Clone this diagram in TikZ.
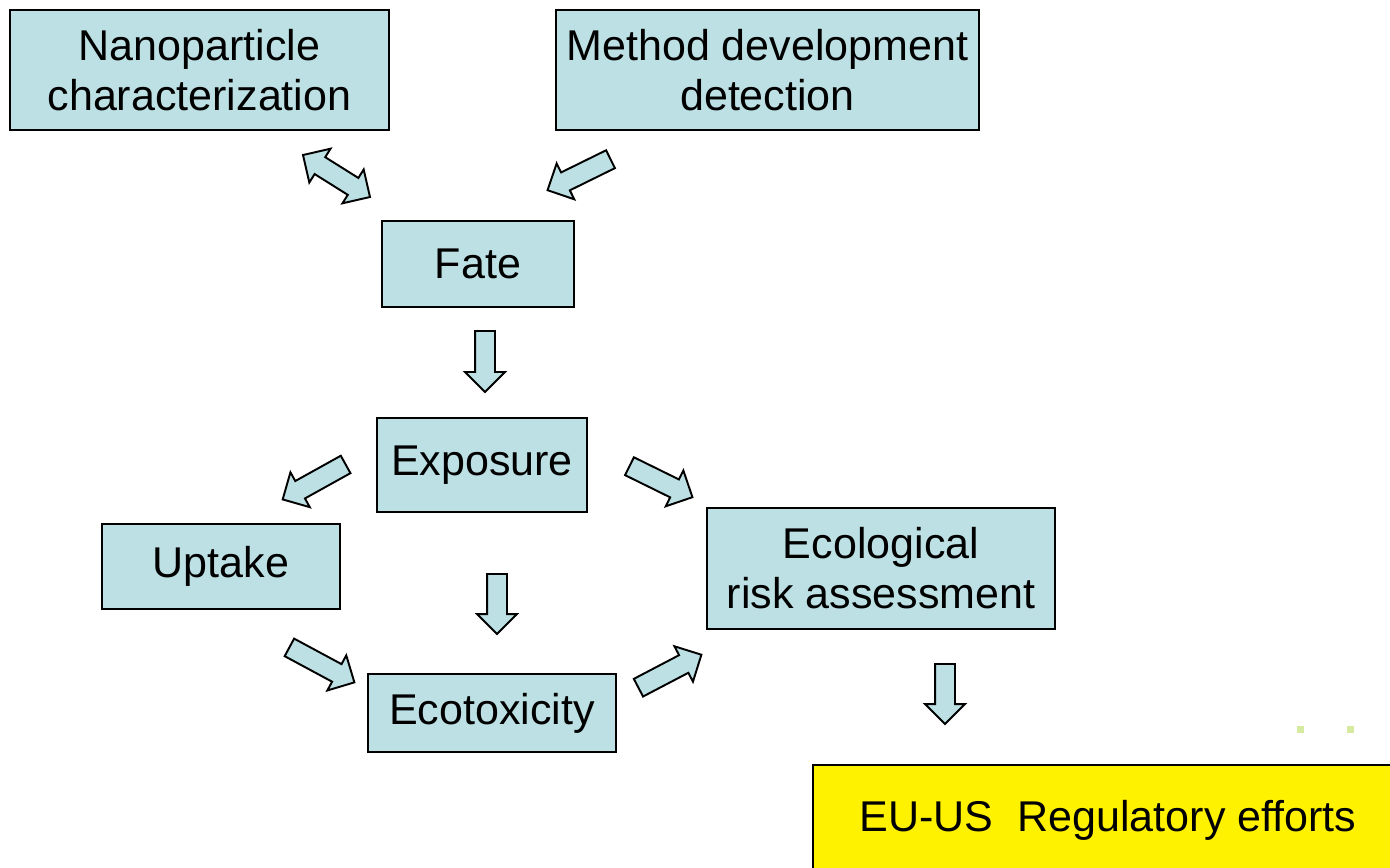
\documentclass[tikz,border=0pt]{standalone}
\usepackage{fontspec}
\setmainfont{Liberation Sans}
\usepackage{tikz}
\usetikzlibrary{shapes.arrows,calc}

\definecolor{boxblue}{RGB}{188,224,227}
\definecolor{dotgreen}{RGB}{214,234,160}

\begin{document}
\begin{tikzpicture}[x=0.02cm,y=-0.02cm]
		\tikzstyle{box}=[draw=black, line width=1.1pt, fill=boxblue, align=center, inner sep=0pt, font=\fontsize{24.5}{28.5}\selectfont]
		\tikzstyle{arrowbox}=[single arrow, draw=black, line width=1.1pt, fill=boxblue, inner xsep=0pt, inner ysep=0.18cm, single arrow head extend=0.2cm]
		\tikzstyle{dblarrowbox}=[double arrow, draw=black, line width=1.1pt, fill=boxblue, inner xsep=0pt, inner ysep=0.18cm, double arrow head extend=0.2cm]
		
		\clip (0,0) rectangle (1390,867);
		
		\node[box, minimum width=7.58cm, minimum height=2.4cm]  (nano)   at (199.5,70)  {Nanoparticle\\characterization};
		\node[box, minimum width=8.46cm, minimum height=2.4cm]  (method) at (767.5,70)  {Method development\\detection};
		\node[box, minimum width=3.84cm, minimum height=1.72cm] (fate)   at (478,264)   {Fate};
		\node[box, minimum width=4.2cm,  minimum height=1.88cm] (expo)   at (482,465)   {Exposure};
		\node[box, minimum width=4.76cm, minimum height=1.7cm]  (uptake) at (221,566.5) {Uptake};
		\node[box, minimum width=4.96cm, minimum height=1.56cm] (ecotox) at (492,713)   {Ecotoxicity};
		\node[box, minimum width=6.96cm, minimum height=2.42cm] (era)    at (881,568.5) {Ecological\\risk assessment};
		\node[box, fill=yellow, minimum width=11.8cm, minimum height=2.2cm] (eu) at (1108,820) {EU-US\ \ Regulatory efforts};
		
		% arrow ends
		\coordinate (nf1) at (303,155);  \coordinate (nf2) at (370,197);
		\coordinate (mf1) at (615,157);  \coordinate (mf2) at (552,188);
		\coordinate (fe1) at (485,326);  \coordinate (fe2) at (485,387);
		\coordinate (eu1) at (350,462);  \coordinate (eu2) at (287,497);
		\coordinate (er1) at (625,464);  \coordinate (er2) at (688,495);
		\coordinate (et1) at (497,569);  \coordinate (et2) at (497,629);
		\coordinate (ut1) at (285,645);  \coordinate (ut2) at (350,680);
		\coordinate (tr1) at (634,690);  \coordinate (tr2) at (697,657);
		\coordinate (re1) at (945,659);  \coordinate (re2) at (945,719);
		
		\path let \p1=(nf1), \p2=(nf2), \n1={atan2(\y2-\y1,\x2-\x1)}, \n2={veclen(\x2-\x1,\y2-\y1)} in
		node[dblarrowbox, rotate=\n1, minimum height=\n2] at ($(nf1)!0.5!(nf2)$) {};
		
		\foreach \a/\b in {mf1/mf2, fe1/fe2, eu1/eu2, er1/er2, et1/et2, ut1/ut2, tr1/tr2, re1/re2}
		{
			\path let \p1=(\a), \p2=(\b), \n1={atan2(\y2-\y1,\x2-\x1)}, \n2={veclen(\x2-\x1,\y2-\y1)} in
			node[arrowbox, rotate=\n1, minimum height=\n2] at ($(\a)!0.5!(\b)$) {};
		}
		
		\fill[dotgreen] (1297,726) rectangle (1304,733);
		\fill[dotgreen] (1347,726) rectangle (1354,733);
\end{tikzpicture}
\end{document}
